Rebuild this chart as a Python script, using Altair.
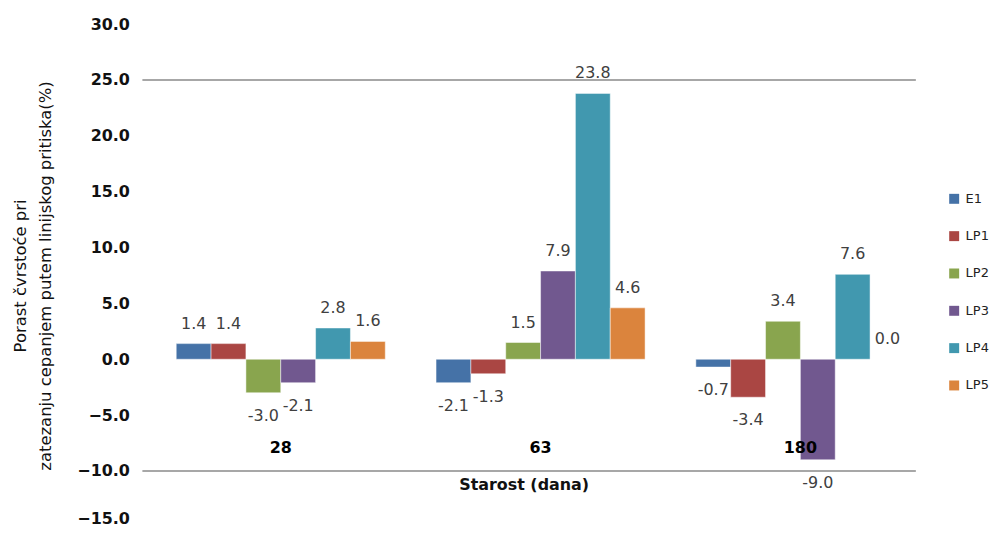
import altair as alt
import pandas as pd

categories = ["28", "63", "180"]
series = ["E1", "LP1", "LP2", "LP3", "LP4", "LP5"]
values = {
    "E1": [1.4, -2.1, -0.7],
    "LP1": [1.4, -1.3, -3.4],
    "LP2": [-3.0, 1.5, 3.4],
    "LP3": [-2.1, 7.9, -9.0],
    "LP4": [2.8, 23.8, 7.6],
    "LP5": [1.6, 4.6, 0.0],
}
colors = ["#4572A7", "#AA4643", "#89A54E", "#71588F", "#4198AF", "#DB843D"]
y_ticks = [-15, -10, -5, 0, 5, 10, 15, 20, 25, 30]
ref_lines = [25, -10]

rows = []
for s in series:
    for c, v in zip(categories, values[s]):
        rows.append({"cat": c, "series": s, "value": v, "lbl": f"{v:.1f}"})
df = pd.DataFrame(rows)
ref_df = pd.DataFrame({"y": ref_lines})

FONT = "DejaVu Sans"
W, H = 783, 505

x_enc = alt.X(
    "cat:N",
    sort=categories,
    scale=alt.Scale(paddingInner=51 / 261, paddingOuter=25.5 / 261),
    axis=alt.Axis(
        title="Starost (dana)",
        titleFont=FONT,
        titleFontSize=16,
        titleFontWeight="bold",
        titleColor="#111111",
        titlePadding=22,
        titleX=374.5,
        titleAlign="center",
        labelFont=FONT,
        labelFontSize=16,
        labelFontWeight="bold",
        labelColor="#000000",
        labelAngle=0,
        labelPadding=2,
        domain=False,
        ticks=False,
        grid=False,
        offset=-90,
        zindex=1,
    ),
)
xoff = alt.XOffset("series:N", sort=series, scale=alt.Scale(paddingInner=0, paddingOuter=0))
y_enc = alt.Y(
    "value:Q",
    scale=alt.Scale(domain=[-15, 30], nice=False, zero=False),
    axis=alt.Axis(
        values=y_ticks,
        format=".1f",
        title=["Porast čvrstoće pri", "zatezanju cepanjem putem linijskog pritiska(%)"],
        titleFont=FONT,
        titleFontSize=16.5,
        titleFontWeight="normal",
        titleColor="#111111",
        titleLineHeight=26,
        titlePadding=23,
        labelFont=FONT,
        labelFontSize=16,
        labelFontWeight="bold",
        labelColor="#111111",
        labelPadding=21.5,
        labelBaseline={"expr": "datum.value == -15 ? 'bottom' : 'middle'"},
        domain=False,
        ticks=False,
        grid=False,
    ),
)

bars = alt.Chart(df).mark_bar(stroke="#ffffff", strokeWidth=0.8, strokeOpacity=0.6).encode(
    x=x_enc,
    xOffset=xoff,
    y=y_enc,
    y2=alt.datum(0),
    color=alt.Color(
        "series:N",
        sort=series,
        scale=alt.Scale(domain=series, range=colors),
        legend=alt.Legend(
            title=None,
            orient="none",
            legendX=800.5,
            legendY=169,
            symbolType="square",
            symbolSize=100,
            symbolStrokeWidth=0,
            labelFont=FONT,
            labelFontSize=13,
            labelColor="#222222",
            labelOffset=5,
            rowPadding=23.5,
        ),
    ),
)

lab_pos = alt.Chart(df).transform_filter("datum.value >= 0").mark_text(
    font=FONT, fontSize=16, color="#404040", baseline="middle", dy=-20
).encode(x=alt.X("cat:N", sort=categories), xOffset=xoff, y="value:Q", text="lbl:N")

lab_neg = alt.Chart(df).transform_filter("datum.value < 0").mark_text(
    font=FONT, fontSize=16, color="#404040", baseline="middle", dy=23
).encode(x=alt.X("cat:N", sort=categories), xOffset=xoff, y="value:Q", text="lbl:N")

rules = alt.Chart(ref_df).mark_rule(color="#8a8a8a", strokeWidth=1.5).encode(
    y="y:Q", x=alt.value(-8.5), x2=alt.value(768.5)
)

chart = alt.layer(rules, bars, lab_pos, lab_neg).properties(
    width=W,
    height=H,
    autosize=alt.AutoSizeParams(type="none"),
    padding={"left": 143.5, "top": 15, "right": 62, "bottom": 0},
).configure_view(strokeWidth=0)

chart.save("out.html", embed_options={"renderer": "svg", "actions": False})
